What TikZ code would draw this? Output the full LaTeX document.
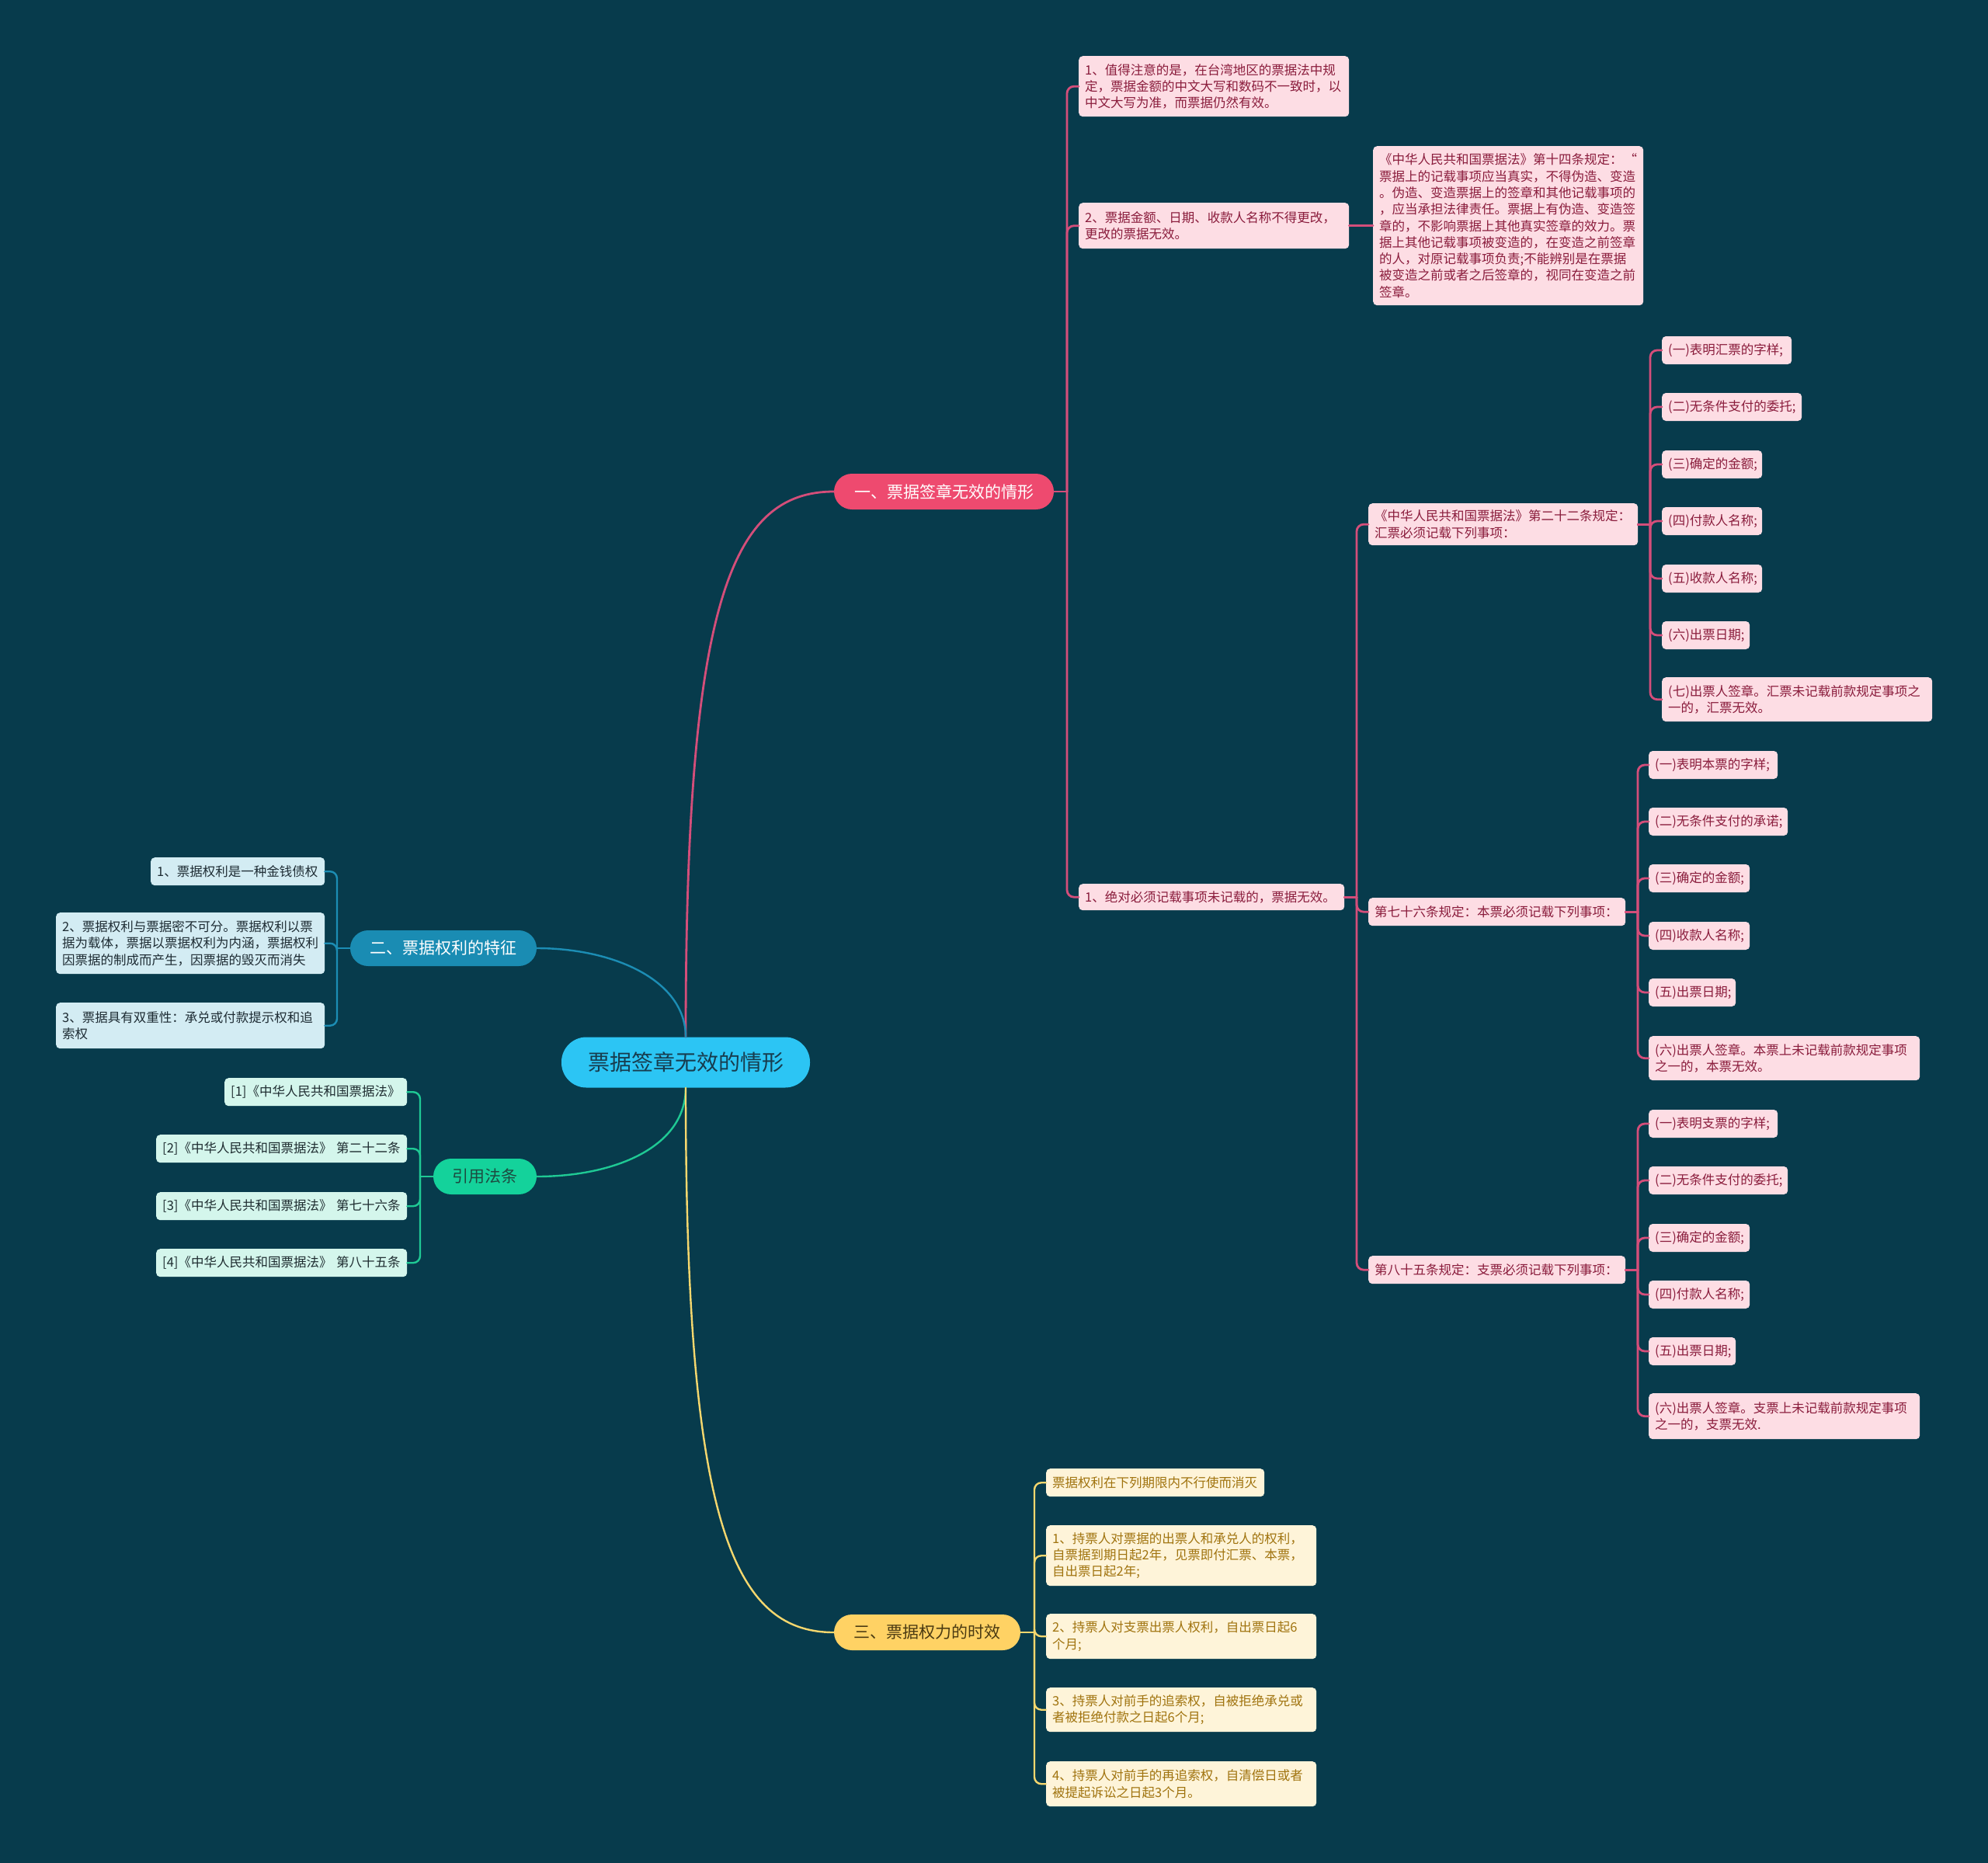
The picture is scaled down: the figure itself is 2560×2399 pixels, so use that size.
\documentclass[tikz,border=0pt]{standalone}
\usepackage{fontspec}
\setmainfont{Noto Sans CJK SC}
\definecolor{bg}{HTML}{073B4C}
\definecolor{rootc}{HTML}{2CC5F4}
\definecolor{roottext}{HTML}{173C4E}
\definecolor{pkbr}{HTML}{EE4A6F}
\definecolor{pkfill}{HTML}{FDDDE4}
\definecolor{pktext}{HTML}{8A1C3C}
\definecolor{pkline}{HTML}{D44E7A}
\definecolor{blbr}{HTML}{1A8CB3}
\definecolor{blfill}{HTML}{D3ECF3}
\definecolor{bltext}{HTML}{1E2C34}
\definecolor{blline}{HTML}{1C8DB4}
\definecolor{grbr}{HTML}{14D29B}
\definecolor{grfill}{HTML}{D4F6EC}
\definecolor{grtext}{HTML}{1E2C30}
\definecolor{grtextb}{HTML}{1D4A40}
\definecolor{grline}{HTML}{1FC994}
\definecolor{ylbr}{HTML}{FFD264}
\definecolor{ylfill}{HTML}{FEF4D9}
\definecolor{yltext}{HTML}{A0730E}
\definecolor{yltextb}{HTML}{4A3A12}
\definecolor{ylline}{HTML}{F5D76E}
\newcommand\myrc[4]{\draw[#1,sharp corners] (#2.east) -- (#3 |- #2.east); \draw[#1] (#3 |- #2.east) |- (#4.west);}
\newcommand\mylc[4]{\draw[#1,sharp corners] (#2.west) -- (#3 |- #2.west); \draw[#1] (#3 |- #2.west) |- (#4.east);}
\begin{document}
\begin{tikzpicture}[x=1pt,y=-1pt,line cap=round,
  sm/.style={font=\fontsize{16.5}{21.3}\selectfont},
  box/.style={sm, rounded corners=5pt, anchor=north west, inner xsep=8pt, inner ysep=0pt, align=left, minimum height=36pt},
  pk/.style={box, fill=pkfill, text=pktext},
  bl/.style={box, fill=blfill, text=bltext},
  gr/.style={box, fill=grfill, text=grtext},
  yl/.style={box, fill=ylfill, text=yltext},
  brn/.style={rounded corners=23pt, inner sep=0pt, align=center, minimum height=46pt, font=\fontsize{21}{24}\selectfont},
  pkl/.style={draw=pkline, line width=2.8pt, rounded corners=9pt},
  bll/.style={draw=blline, line width=2.4pt, rounded corners=9pt},
  grl/.style={draw=grline, line width=2.4pt, rounded corners=9pt},
  yll/.style={draw=ylline, line width=2.4pt, rounded corners=9pt}
]
\fill[bg] (0,0) rectangle (2560,2399);
\useasboundingbox (0,0) rectangle (2560,2399);

% trunk coordinates
\coordinate (t1) at (1374,0);
\coordinate (t2) at (1747,0);
\coordinate (t3) at (2125,0);
\coordinate (t4) at (2109,0);
\coordinate (t5) at (434,0);
\coordinate (t6) at (541,0);
\coordinate (t7) at (1332,0);

% root and branches
\node[rounded corners=32pt, fill=rootc, text=roottext, minimum width=320pt, minimum height=65pt, inner sep=0pt, font=\fontsize{28}{32}\selectfont] (root) at (883,1368) {票据签章无效的情形};
\node[brn, fill=pkbr, text=white, minimum width=283pt] (B1) at (1215.5,633) {一、票据签章无效的情形};
\node[brn, fill=blbr, text=white, minimum width=240pt] (B2) at (571,1221) {二、票据权利的特征};
\node[brn, fill=grbr, text=grtextb, minimum width=133pt] (B3) at (624.5,1515) {引用法条};
\node[brn, fill=ylbr, text=yltextb, minimum width=240pt] (B4) at (1194,2102) {三、票据权力的时效};

% branch 1 children
\node[pk, text width=332pt, minimum height=78pt] (c1) at (1389,72) {1、值得注意的是，在台湾地区的票据法中规\\定，票据金额的中文大写和数码不一致时，以\\中文大写为准，而票据仍然有效。};
\node[pk, text width=332pt, minimum height=59pt] (c2) at (1389,261) {2、票据金额、日期、收款人名称不得更改，\\更改的票据无效。};
\node[pk, text width=332pt, minimum height=205pt] (c2a) at (1768,188) {《中华人民共和国票据法》第十四条规定：\hfill“\\票据上的记载事项应当真实，不得伪造、变造\\。伪造、变造票据上的签章和其他记载事项的\\，应当承担法律责任。票据上有伪造、变造签\\章的，不影响票据上其他真实签章的效力。票\\据上其他记载事项被变造的，在变造之前签章\\的人，对原记载事项负责;不能辨别是在票据\\被变造之前或者之后签章的，视同在变造之前\\签章。};
\node[pk, text width=326pt, minimum height=34pt] (c3) at (1389,1138) {1、绝对必须记载事项未记载的，票据无效。};
\node[pk, text width=331pt, minimum height=54pt] (c3a) at (1762,648) {《中华人民共和国票据法》第二十二条规定：\\汇票必须记载下列事项：};
\node[pk, text width=315pt] (c3b) at (1762,1156) {第七十六条规定：本票必须记载下列事项：};
\node[pk, text width=315pt] (c3c) at (1762,1617) {第八十五条规定：支票必须记载下列事项：};

% 汇票 items
\node[pk, anchor=west, text width=151pt] (h1) at (2140,451) {(一)表明汇票的字样;};
\node[pk, anchor=west, text width=164pt] (h2) at (2140,524) {(二)无条件支付的委托;};
\node[pk, anchor=west, text width=113pt] (h3) at (2140,598) {(三)确定的金额;};
\node[pk, anchor=west, text width=113pt] (h4) at (2140,671) {(四)付款人名称;};
\node[pk, anchor=west, text width=113pt] (h5) at (2140,745) {(五)收款人名称;};
\node[pk, anchor=west, text width=97pt] (h6) at (2140,818) {(六)出票日期;};
\node[pk, text width=332pt, minimum height=57pt] (h7) at (2140,872) {(七)出票人签章。汇票未记载前款规定事项之\\一的，汇票无效。};

% 本票 items
\node[pk, anchor=west, text width=150pt] (m1) at (2123,985) {(一)表明本票的字样;};
\node[pk, anchor=west, text width=163pt] (m2) at (2123,1058) {(二)无条件支付的承诺;};
\node[pk, anchor=west, text width=114pt] (m3) at (2123,1131) {(三)确定的金额;};
\node[pk, anchor=west, text width=114pt] (m4) at (2123,1205) {(四)收款人名称;};
\node[pk, anchor=west, text width=96pt] (m5) at (2123,1278) {(五)出票日期;};
\node[pk, text width=333pt, minimum height=57pt] (m6) at (2123,1334) {(六)出票人签章。本票上未记载前款规定事项\\之一的，本票无效。};

% 支票 items
\node[pk, anchor=west, text width=150pt] (k1) at (2123,1447) {(一)表明支票的字样;};
\node[pk, anchor=west, text width=163pt] (k2) at (2123,1520) {(二)无条件支付的委托;};
\node[pk, anchor=west, text width=114pt] (k3) at (2123,1594) {(三)确定的金额;};
\node[pk, anchor=west, text width=114pt] (k4) at (2123,1667) {(四)付款人名称;};
\node[pk, anchor=west, text width=96pt] (k5) at (2123,1740) {(五)出票日期;};
\node[pk, text width=333pt, minimum height=59pt] (k6) at (2123,1794) {(六)出票人签章。支票上未记载前款规定事项\\之一的，支票无效.};

% branch 2 children
\node[bl, text width=208pt] (b1) at (194,1104) {1、票据权利是一种金钱债权};
\node[bl, text width=330pt, minimum height=79pt] (b2) at (72,1175) {2、票据权利与票据密不可分。票据权利以票\\据为载体，票据以票据权利为内涵，票据权利\\因票据的制成而产生，因票据的毁灭而消失};
\node[bl, text width=330pt, minimum height=59pt] (b3) at (72,1291) {3、票据具有双重性：承兑或付款提示权和追\\索权};

% branch 3 children
\node[gr, text width=219pt] (g1) at (289,1388) {[1]《中华人民共和国票据法》};
\node[gr, text width=307pt] (g2) at (201,1461) {[2]《中华人民共和国票据法》 第二十二条};
\node[gr, text width=307pt] (g3) at (201,1535) {[3]《中华人民共和国票据法》 第七十六条};
\node[gr, text width=307pt] (g4) at (201,1608) {[4]《中华人民共和国票据法》 第八十五条};

% branch 4 children
\node[yl, text width=265pt] (y0) at (1347,1891) {票据权利在下列期限内不行使而消灭};
\node[yl, text width=332pt, minimum height=78pt] (y1) at (1347,1964) {1、持票人对票据的出票人和承兑人的权利，\\自票据到期日起2年，见票即付汇票、本票，\\自出票日起2年;};
\node[yl, text width=332pt, minimum height=58pt] (y2) at (1347,2078) {2、持票人对支票出票人权利，自出票日起6\\个月;};
\node[yl, text width=332pt, minimum height=57pt] (y3) at (1347,2173) {3、持票人对前手的追索权，自被拒绝承兑或\\者被拒绝付款之日起6个月;};
\node[yl, text width=332pt, minimum height=58pt] (y4) at (1347,2268) {4、持票人对前手的再追索权，自清偿日或者\\被提起诉讼之日起3个月。};

% root connectors
\draw[draw=pkline, line width=2.8pt] (root.north) .. controls (883,780) and (940,633) .. (B1.west);
\draw[draw=blline, line width=2.4pt] (root.north) .. controls (883,1262) and (790,1221) .. (B2.east);
\draw[draw=grline, line width=2.4pt] (root.south) .. controls (883,1478) and (790,1515) .. (B3.east);
\draw[draw=ylline, line width=2.4pt] (root.south) .. controls (883,1950) and (940,2102) .. (B4.west);

% branch 1 connectors
\myrc{pkl}{B1}{t1}{c1}
\myrc{pkl}{B1}{t1}{c2}
\myrc{pkl}{B1}{t1}{c3}
\draw[pkl] (c2.east) -- (c2a.west);
\myrc{pkl}{c3}{t2}{c3a}
\myrc{pkl}{c3}{t2}{c3b}
\myrc{pkl}{c3}{t2}{c3c}
\foreach \n in {h1,h2,h3,h4,h5,h6,h7} {\myrc{pkl}{c3a}{t3}{\n}}
\foreach \n in {m1,m2,m3,m4,m5,m6} {\myrc{pkl}{c3b}{t4}{\n}}
\foreach \n in {k1,k2,k3,k4,k5,k6} {\myrc{pkl}{c3c}{t4}{\n}}

% branch 2 connectors
\foreach \n in {b1,b2,b3} {\mylc{bll}{B2}{t5}{\n}}
% branch 3 connectors
\foreach \n in {g1,g2,g3,g4} {\mylc{grl}{B3}{t6}{\n}}
% branch 4 connectors
\foreach \n in {y0,y1,y2,y3,y4} {\myrc{yll}{B4}{t7}{\n}}
\end{tikzpicture}
\end{document}
